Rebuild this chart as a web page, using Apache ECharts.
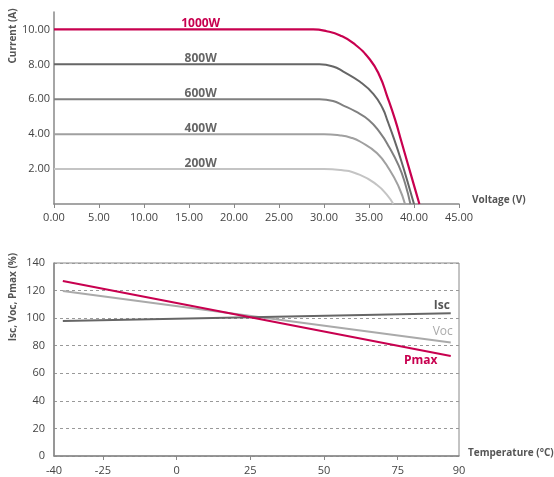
<!DOCTYPE html>
<html>
<head>
<meta charset="utf-8">
<script src="https://cdn.jsdelivr.net/npm/echarts@6/dist/echarts.min.js"></script>
<style>
  html, body { margin: 0; padding: 0; background: #fff; }
  #chart { width: 554px; height: 477px; }
</style>
</head>
<body>
<div id="chart"></div>
<script>
// I-V curves, [voltage (V), current (A)]
const curve1000 = [[0, 10], [28.8, 10], [30.3, 9.9], [31.8, 9.66], [33.3, 9.2], [35.1, 8.28], [36.2, 7.32], [37.0, 6.2], [37.9, 4.83], [38.6, 3.58], [39.3, 2.32], [40.0, 1.07], [40.6, 0]];
const curve800 = [[0, 8], [29.5, 8], [31.0, 7.88], [32.1, 7.6], [34.0, 7.0], [35.5, 6.3], [36.5, 5.5], [37.1, 4.7], [37.8, 3.7], [38.6, 2.45], [39.3, 1.25], [40.0, 0]];
const curve600 = [[0, 6], [29.5, 6], [31.0, 5.9], [32.1, 5.65], [33.5, 5.3], [35.0, 4.8], [36.2, 4.1], [37.2, 3.3], [38.3, 2.2], [39.0, 1.2], [39.6, 0]];
const curve400 = [[0, 4], [30, 4], [31.8, 3.93], [33.0, 3.8], [34.0, 3.58], [35.9, 2.91], [37.3, 1.95], [38.3, 0.99], [39.0, 0]];
const curve200 = [[0, 2], [30, 2], [31.8, 1.95], [34.0, 1.67], [35.9, 1.09], [37.0, 0.52], [37.7, 0]];
const curveNames = ['1000W', '800W', '600W', '400W', '200W'];

// temperature coefficients (%)
const tempX = [-38.6, 93];
const iscValues = [98, 103.5];
const vocValues = [119.7, 82.3];
const pmaxValues = [127, 72.6];
const tempTickValues = [-41.6, -25, 0, 25, 50, 75, 95.8];
const tempTickLabels = ['-40', '-25', '0', '25', '50', '75', '90'];

const FONT = 'Open Sans';
const RED = '#c8004f';
const axisColor = '#888';
const labelColor = '#444';

const chart = echarts.init(document.getElementById('chart'));

// 曲线
function ivSeries(name, data, color, width, labelColor) {
  return {
    name,
    type: 'line',
    xAxisIndex: 0,
    yAxisIndex: 0,
    data,
    smooth: 0.5,
    symbol: 'none',
    lineStyle: { color, width },
    markPoint: {
      symbol: 'circle',
      symbolSize: 0,
      data: [{ coord: [16.3, data[0][1]] }],
      label: {
        show: true,
        position: 'top',
        distance: 0,
        formatter: name,
        color: labelColor,
        fontFamily: FONT,
        fontWeight: 'bold',
        fontSize: 12,
      },
    },
  };
}

function tempSeries(name, values, color, labelStyle, offset) {
  const data = tempX.map((t, i) => [t, values[i]]);
  return {
    name,
    type: 'line',
    xAxisIndex: 1,
    yAxisIndex: 1,
    data,
    symbol: 'none',
    lineStyle: { color, width: 2 },
    markPoint: {
      symbol: 'circle',
      symbolSize: 0,
      data: [{ coord: data[data.length - 1] }],
      label: Object.assign(
        {
          show: true,
          position: 'inside',
          offset,
          formatter: name,
          fontFamily: FONT,
          fontSize: 12,
        },
        labelStyle,
      ),
    },
  };
}

const option = {
  animation: false,
  backgroundColor: '#fff',
  grid: [
    { left: 54, top: 12, width: 405, height: 192, show: false },
    { left: 54, top: 263, width: 405, height: 193, show: true, borderColor: axisColor, borderWidth: 1 },
  ],
  xAxis: [
    {
      gridIndex: 0,
      type: 'value',
      min: 0,
      max: 45,
      interval: 5,
      axisLine: { lineStyle: { color: axisColor, width: 1.5 } },
      axisTick: { show: true, length: 4, lineStyle: { color: axisColor } },
      splitLine: { show: false },
      axisLabel: {
        margin: 8,
        color: labelColor,
        fontFamily: FONT,
        fontSize: 11,
        formatter: (v) => v.toFixed(2),
      },
    },
    {
      gridIndex: 1,
      type: 'value',
      min: tempTickValues[0],
      max: tempTickValues[tempTickValues.length - 1],
      axisLine: { onZero: false, lineStyle: { color: axisColor, width: 1.5 } },
      axisTick: { show: true, length: 4, customValues: tempTickValues.slice(1, -1), lineStyle: { color: axisColor } },
      splitLine: { show: false },
      axisLabel: {
        margin: 9,
        color: labelColor,
        fontFamily: FONT,
        fontSize: 11,
        customValues: tempTickValues,
        formatter: (v) => {
          const i = tempTickValues.findIndex((t) => Math.abs(t - v) < 0.01);
          return i >= 0 ? tempTickLabels[i] : '';
        },
      },
    },
  ],
  yAxis: [
    {
      gridIndex: 0,
      type: 'value',
      min: 0,
      max: 11,
      interval: 2,
      axisLine: { show: true, onZero: false, lineStyle: { color: axisColor, width: 1.5 } },
      axisTick: { show: false },
      splitLine: { show: false },
      axisLabel: {
        margin: 4,
        color: labelColor,
        fontFamily: FONT,
        fontSize: 11,
        showMinLabel: false,
        showMaxLabel: false,
        formatter: (v) => (v === 0 || v > 10 ? '' : v.toFixed(2)),
      },
    },
    {
      gridIndex: 1,
      type: 'value',
      min: 0,
      max: 140,
      interval: 20,
      axisLine: { show: true, onZero: false, lineStyle: { color: axisColor, width: 1.5 } },
      axisTick: { show: false },
      splitLine: { show: true, lineStyle: { color: '#999', type: [3, 3], width: 1 } },
      axisLabel: {
        margin: 9,
        color: labelColor,
        fontFamily: FONT,
        fontSize: 11,
      },
    },
  ],
  graphic: [
    {
      type: 'text',
      x: 13,
      y: 36,
      rotation: Math.PI / 2,
      style: { text: 'Current (A)', fill: '#555', font: 'bold 10px "Open Sans"', align: 'center', verticalAlign: 'middle' },
    },
    {
      type: 'text',
      x: 13,
      y: 297,
      rotation: Math.PI / 2,
      style: { text: 'Isc, Voc, Pmax (%)', fill: '#555', font: 'bold 10px "Open Sans"', align: 'center', verticalAlign: 'middle' },
    },
    {
      type: 'text',
      x: 472,
      y: 200,
      style: { text: 'Voltage (V)', fill: '#555', font: 'bold 10px "Open Sans"', align: 'left', verticalAlign: 'middle' },
    },
    {
      type: 'text',
      x: 468,
      y: 453,
      style: { text: 'Temperature (°C)', fill: '#555', font: 'bold 10px "Open Sans"', align: 'left', verticalAlign: 'middle' },
    },
  ],
  series: [
    ivSeries(curveNames[4], curve200, '#c4c4c4', 2, '#666'),
    ivSeries(curveNames[3], curve400, '#a0a0a0', 2, '#666'),
    ivSeries(curveNames[2], curve600, '#808080', 2, '#666'),
    ivSeries(curveNames[1], curve800, '#666666', 2, '#666'),
    ivSeries(curveNames[0], curve1000, RED, 2.2, RED),
    tempSeries('Voc', vocValues, '#aaaaaa', { color: '#aaa' }, [-8, -11]),
    tempSeries('Isc', iscValues, '#666666', { color: '#555', fontWeight: 'bold' }, [-9, -8]),
    tempSeries('Pmax', pmaxValues, RED, { color: RED, fontWeight: 'bold' }, [-30, 5]),
  ],
};

chart.setOption(option);
</script>
</body>
</html>
